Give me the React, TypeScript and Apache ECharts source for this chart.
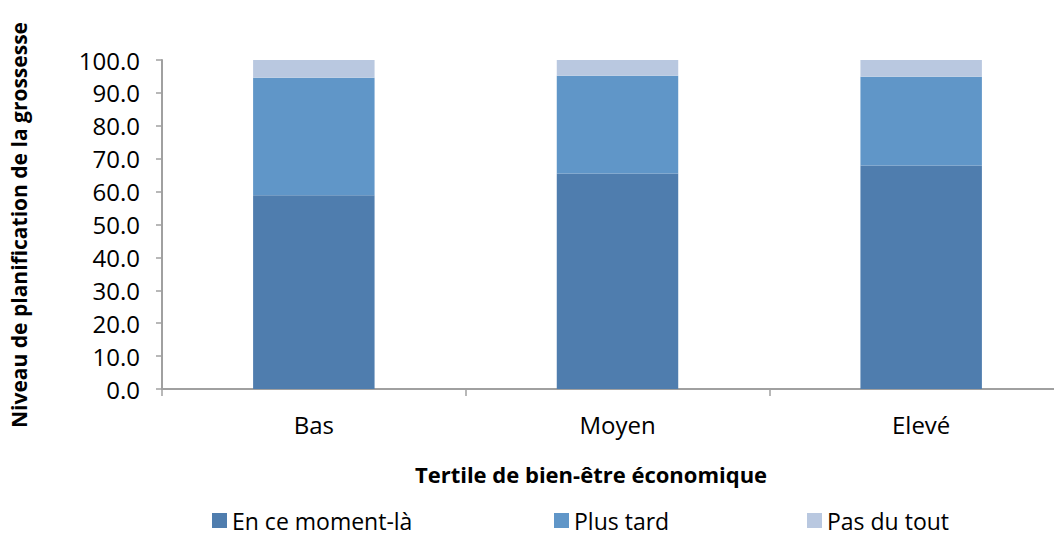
import React, { useEffect, useRef } from "react";
import * as echarts from "echarts";

const categories = ["Bas", "Moyen", "Elevé"];
const enCeMoment = [58.9, 65.5, 67.9];
const plusTard = [35.7, 29.7, 27.0];
const pasDuTout = [5.4, 4.8, 5.1];
const seriesNames = ["En ce moment-là", "Plus tard", "Pas du tout"];
const yAxisTitle = "Niveau de planification de la grossesse";
const xAxisTitle = "Tertile de bien-être économique";
const colors = ["#4F7DAE", "#6096C8", "#B9C8E0"];

const FONT = "'Open Sans', sans-serif";

export default function App() {
  const ref = useRef<HTMLDivElement>(null);
  useEffect(() => {
    if (!ref.current) return;
    const chart = echarts.init(ref.current, undefined, { renderer: "svg" });
    const values = [enCeMoment, plusTard, pasDuTout];
    const legendX = [204, 546, 799];
    chart.setOption({
      animation: false,
      textStyle: { fontFamily: FONT },
      grid: { left: 154, width: 911, top: 52, bottom: 149, outerBoundsMode: "none", containLabel: false },
      legend: seriesNames.map((n, i) => ({
        data: [n],
        left: legendX[i],
        top: 501,
        padding: 0,
        icon: "rect",
        itemWidth: 15,
        itemHeight: 15,
        itemGap: 7,
        textStyle: { fontSize: 23, color: "#000", fontFamily: FONT },
      })),
      graphic: [
        {
          type: "text",
          x: 583,
          y: 466,
          style: {
            text: xAxisTitle,
            fontSize: 22,
            fontWeight: "bold",
            fill: "#000",
            fontFamily: FONT,
            align: "center",
            verticalAlign: "middle",
          },
        },
        {
          type: "text",
          x: 11,
          y: 217,
          rotation: Math.PI / 2,
          style: {
            text: yAxisTitle,
            fontSize: 21,
            fontWeight: "bold",
            fill: "#000",
            fontFamily: FONT,
            align: "center",
            verticalAlign: "middle",
          },
        },
      ],
      xAxis: {
        type: "category",
        data: categories,
        axisLine: { lineStyle: { color: "#A0A0A0", width: 2 } },
        axisTick: { show: true, length: 7, lineStyle: { color: "#A0A0A0", width: 1.5 } },
        axisLabel: { fontSize: 24, color: "#000", margin: 23, fontFamily: FONT },
      },
      yAxis: {
        type: "value",
        min: 0,
        max: 100,
        interval: 10,
        axisLine: { show: true, lineStyle: { color: "#A0A0A0", width: 2 } },
        axisTick: { show: true, length: 6, lineStyle: { color: "#A0A0A0", width: 1.5 } },
        splitLine: { show: false },
        axisLabel: {
          fontSize: 24,
          color: "#000",
          margin: 22,
          fontFamily: FONT,
          formatter: (v: number) => v.toFixed(1),
        },
      },
      series: seriesNames.map((n, i) => ({
        name: n,
        type: "bar",
        stack: "total",
        barWidth: "40%",
        data: values[i],
        itemStyle: { color: colors[i] },
      })),
    });
    return () => chart.dispose();
  }, []);
  return <div ref={ref} style={{ width: 1054, height: 530 }} />;
}
